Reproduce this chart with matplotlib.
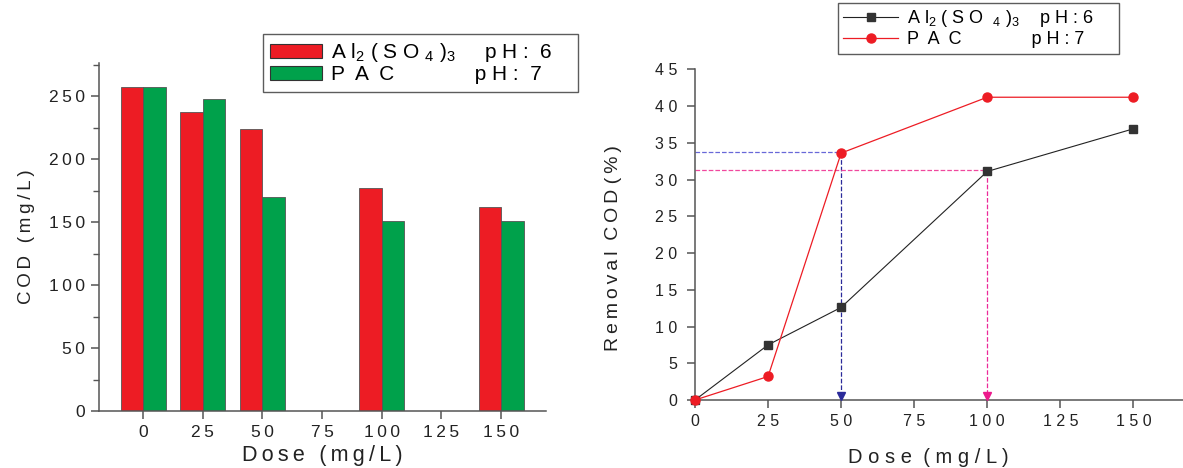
import matplotlib
matplotlib.use("Agg")
import matplotlib.pyplot as plt
from matplotlib.patches import Patch
from matplotlib.lines import Line2D
from matplotlib.ticker import MultipleLocator

plt.rcParams['font.family'] = ['Liberation Sans', 'DejaVu Sans']
plt.rcParams['mathtext.fontset'] = 'custom'
plt.rcParams['mathtext.rm'] = 'Liberation Sans'
plt.rcParams['mathtext.it'] = 'Liberation Sans'
plt.rcParams['mathtext.default'] = 'rm'

# ---- data ----
doses_bar = [0, 25, 50, 100, 150]
cod_alum = [257, 237, 224, 177, 162]
cod_pac = [257, 248, 170, 151, 151]

doses_line = [0, 25, 50, 100, 150]
removal_alum = [0, 7.5, 12.6, 31.1, 36.9]
removal_pac = [0, 3.2, 33.6, 41.2, 41.2]

x_ticks = [0, 25, 50, 75, 100, 125, 150]
y_ticks_left = [0, 50, 100, 150, 200, 250]
y_ticks_right = [0, 5, 10, 15, 20, 25, 30, 35, 40, 45]

RED = '#ED1C24'
GREEN = '#00A14B'
DARK = '#333333'
TXT = '#222222'

THIN = '\u2009'


def spaced(s, sep=' '):
    return sep.join(s)


fig = plt.figure(figsize=(11.83, 4.68), dpi=100)

# ============ left: bar chart ============
ax1 = fig.add_axes([0.0839, 0.1218, 0.3776, 0.743])
w = 9.4
ax1.bar([d - w / 2 for d in doses_bar], cod_alum, width=w, color=RED,
        edgecolor='#555555', linewidth=0.6)
ax1.bar([d + w / 2 for d in doses_bar], cod_pac, width=w, color=GREEN,
        edgecolor='#555555', linewidth=0.6)
ax1.set_xlim(-18.4, 168.8)
ax1.set_ylim(0, 276)
ax1.set_xticks(x_ticks)
ax1.set_xticklabels([spaced(str(t), THIN) for t in x_ticks], fontsize=12.5)
ax1.set_yticks(y_ticks_left)
ax1.set_yticklabels([spaced(str(t), THIN) for t in y_ticks_left], fontsize=12.5)
ax1.yaxis.set_minor_locator(MultipleLocator(25))
for s in ['top', 'right']:
    ax1.spines[s].set_visible(False)
for s in ['left', 'bottom']:
    ax1.spines[s].set_color('#555555')
    ax1.spines[s].set_linewidth(1.1)
ax1.tick_params(axis='both', which='major', length=6, width=1.1,
                color='#555555', labelcolor=TXT, pad=4)
ax1.tick_params(axis='y', which='minor', length=4, width=1.0, color='#555555')
ax1.set_xlabel(spaced('Dose (mg/L)', THIN), fontsize=15.5, color=TXT, labelpad=4)
ax1.set_ylabel(spaced('COD (mg/L)', THIN), fontsize=13.5, color=TXT, labelpad=10)

h1 = [Patch(facecolor=RED, edgecolor='#333333', linewidth=0.8),
      Patch(facecolor=GREEN, edgecolor='#333333', linewidth=0.8)]
l1 = ['A l$_2$ ( S O $_4$ )$_3$     p H :  6    ',
      'P  A  C              p H :  7']
leg1 = fig.legend(h1, l1, loc='upper left', bbox_to_anchor=(0.2223, 0.9274),
                  fontsize=15, frameon=True, fancybox=False, handlelength=2.5,
                  handleheight=0.7, handletextpad=0.4, labelspacing=0.05,
                  borderpad=0.35, borderaxespad=0)
leg1.get_frame().set_edgecolor('#333333')
leg1.get_frame().set_linewidth(1.0)

# ============ right: line chart ============
ax2 = fig.add_axes([0.5875, 0.1453, 0.4125, 0.7066])

ax2.plot(doses_line, removal_alum, color='#222222', linewidth=0.8, marker='s',
         markersize=5.5, markerfacecolor=DARK, markeredgecolor=DARK,
         clip_on=False, zorder=4)
ax2.plot(doses_line, removal_pac, color=RED, linewidth=0.9, marker='o',
         markersize=6.5, markerfacecolor=RED, markeredgecolor=RED,
         clip_on=False, zorder=4)

# guide lines
blue_y = removal_pac[2] + 0.1
pink_y = removal_alum[3] + 0.2
ax2.plot([0, 50], [blue_y, blue_y], color='#6868D8', linestyle='--',
         linewidth=0.9, zorder=2)
ax2.plot([50, 50], [removal_pac[2], 0.6], color='#2B2B9A', linestyle='--',
         linewidth=0.9, zorder=2)
ax2.plot([50], [0.6], marker='v', color='#2B2B9A', markersize=6, zorder=3)
ax2.plot([0, 100], [pink_y, pink_y], color='#F0489E', linestyle='--',
         linewidth=0.9, zorder=2)
ax2.plot([100, 100], [removal_alum[3], 0.6], color='#EC2A9A', linestyle='--',
         linewidth=0.9, zorder=2)
ax2.plot([100], [0.6], marker='v', color='#EC1A8C', markersize=6, zorder=3)

ax2.set_xlim(0, 167)
ax2.set_ylim(0, 45)
ax2.set_xticks(x_ticks)
ax2.set_xticklabels([spaced(str(t)) for t in x_ticks], fontsize=11.5)
ax2.set_yticks(y_ticks_right)
ax2.set_yticklabels([spaced(str(t)) for t in y_ticks_right], fontsize=11.5)
for s in ['top', 'right']:
    ax2.spines[s].set_visible(False)
for s in ['left', 'bottom']:
    ax2.spines[s].set_color('#555555')
    ax2.spines[s].set_linewidth(1.1)
ax2.tick_params(axis='both', which='major', length=6, width=1.1,
                color='#555555', labelcolor=TXT)
ax2.tick_params(axis='y', pad=7)
ax2.tick_params(axis='x', pad=4)
ax2.set_xlabel(spaced('Dose') + '  ' + spaced('(mg/L)'), fontsize=14.5,
               color=TXT)
ax2.xaxis.set_label_coords(0.478, -0.145)
ax2.set_ylabel(spaced('Removal', THIN) + '  ' + spaced('COD', THIN) + ' '
               + spaced('(%)', THIN), fontsize=14, color=TXT)
ax2.yaxis.set_label_coords(-0.15, 0.46)

h2 = [Line2D([], [], color='#222222', linewidth=0.8, marker='s', markersize=5.5,
             markerfacecolor=DARK, markeredgecolor=DARK),
      Line2D([], [], color=RED, linewidth=0.9, marker='o', markersize=6.5,
             markerfacecolor=RED, markeredgecolor=RED)]
l2 = ['A l$_2$ ( S O  $_4$ )$_3$    p H : 6     ',
      'P  A  C              p H : 7']
leg2 = fig.legend(h2, l2, loc='upper left', bbox_to_anchor=(0.7084, 0.9936),
                  fontsize=13, frameon=True, fancybox=False, handlelength=3.0,
                  handletextpad=0.5, labelspacing=0.1, borderpad=0.3,
                  borderaxespad=0)
leg2.get_frame().set_edgecolor('#333333')
leg2.get_frame().set_linewidth(1.0)

fig.savefig('out.png', dpi=100)
